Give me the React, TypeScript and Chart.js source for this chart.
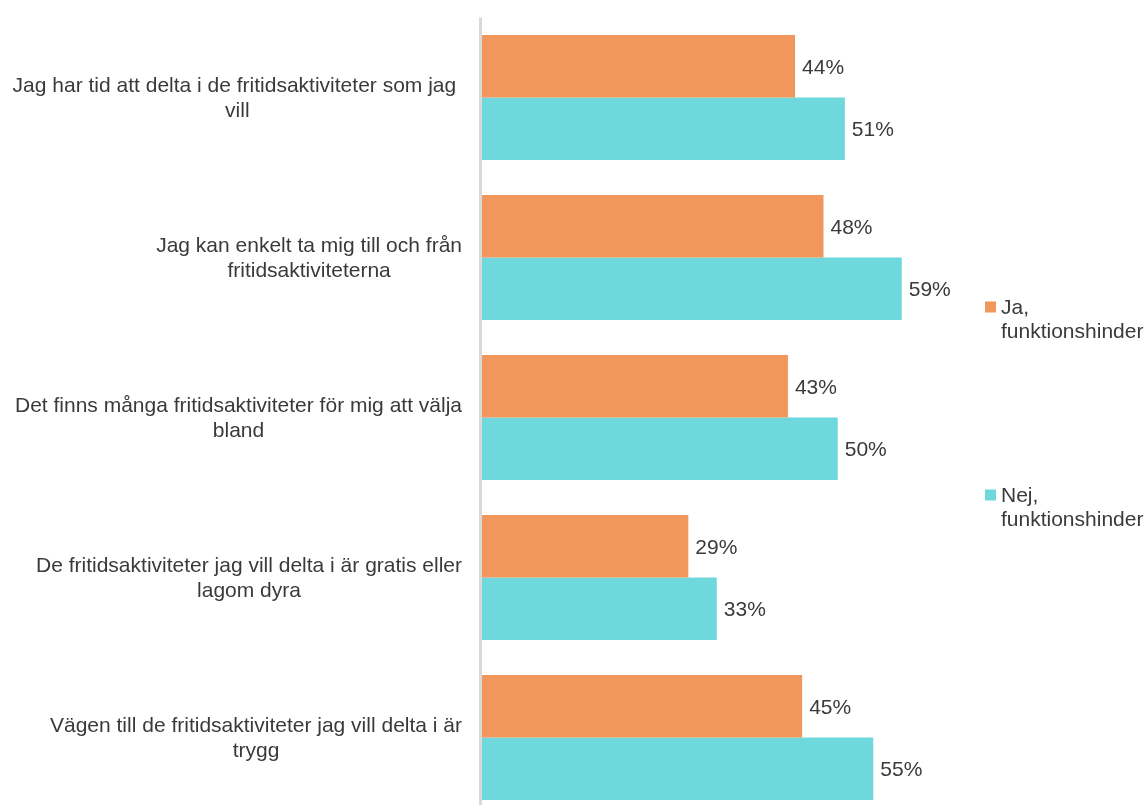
import React, { useEffect, useRef } from "react";
import { Chart, registerables } from "chart.js";

Chart.register(...registerables);

const categories: string[][] = [
  ["Jag har tid att delta i de fritidsaktiviteter som jag ", "vill"],
  ["Jag kan enkelt ta mig till och från", "fritidsaktiviteterna"],
  ["Det finns många fritidsaktiviteter för mig att välja", "bland"],
  ["De fritidsaktiviteter jag vill delta i är gratis eller", "lagom dyra"],
  ["Vägen till de fritidsaktiviteter jag vill delta i är", "trygg"],
];

const seriesNames = ["Ja, funktionshinder", "Nej, funktionshinder"];
const legendLines: string[][] = [
  ["Ja,", "funktionshinder"],
  ["Nej,", "funktionshinder"],
];
const jaValues = [44, 48, 43, 29, 45];
const nejValues = [51, 59, 50, 33, 55];

const ORANGE = "#F1975B";
const CYAN = "#6FD8DC";
const TEXT = "#3A3A3A";
const FONT = "21px 'Liberation Sans', Arial, sans-serif";

const decorPlugin = {
  id: "decor",
  beforeDatasetsDraw(chart: any) {
    const { ctx, chartArea } = chart;
    ctx.save();
    ctx.fillStyle = "#D9D9D9";
    ctx.fillRect(chartArea.left - 3, chartArea.top, 3, chartArea.bottom - chartArea.top);
    ctx.restore();
  },
  afterDatasetsDraw(chart: any) {
    const { ctx } = chart;
    ctx.save();
    ctx.font = FONT;
    ctx.fillStyle = TEXT;
    ctx.textBaseline = "middle";
    ctx.textAlign = "left";
    chart.data.datasets.forEach((ds: any, di: number) => {
      const meta = chart.getDatasetMeta(di);
      meta.data.forEach((bar: any, i: number) => {
        ctx.fillText(ds.data[i] + "%", bar.x + 7, bar.y + 1.5);
      });
    });

    // category labels: block right-aligned, lines centred within block
    const yScale = chart.scales.y;
    const rightEdge = 462;
    const lineH = 25;
    categories.forEach((lines, i) => {
      const cy = yScale.getPixelForValue(i) + 1.5;
      const w = Math.max(...lines.map((l) => ctx.measureText(l).width));
      const cx = rightEdge - w / 2;
      ctx.textAlign = "center";
      lines.forEach((l, li) => {
        const y = cy + (li - (lines.length - 1) / 2) * lineH;
        const trimmed = l.trimEnd();
        const shift = (ctx.measureText(l).width - ctx.measureText(trimmed).width) / 2;
        ctx.fillText(trimmed, cx - shift, y);
      });
    });

    // legend
    const legendY = [307, 495];
    const colors = [ORANGE, CYAN];
    legendLines.forEach((lines, i) => {
      ctx.fillStyle = colors[i];
      ctx.fillRect(985, legendY[i] - 5.5, 11, 11);
      ctx.fillStyle = TEXT;
      ctx.textAlign = "left";
      lines.forEach((l, li) => {
        ctx.fillText(l, 1001, legendY[i] + 1.5 + li * 24);
      });
    });
    ctx.restore();
  },
};

export default function App() {
  const ref = useRef<HTMLCanvasElement | null>(null);
  useEffect(() => {
    if (!ref.current) return;
    const chart = new Chart(ref.current, {
      type: "bar",
      data: {
        labels: categories.map((c) => c.join(" ")),
        datasets: [
          {
            label: seriesNames[0],
            data: jaValues,
            backgroundColor: ORANGE,
            barPercentage: 1,
            categoryPercentage: 0.78,
          },
          {
            label: seriesNames[1],
            data: nejValues,
            backgroundColor: CYAN,
            barPercentage: 1,
            categoryPercentage: 0.78,
          },
        ],
      },
      options: {
        indexAxis: "y",
        animation: false,
        responsive: false,
        devicePixelRatio: 1,
        layout: { padding: { top: 17.5, bottom: 12.5, left: 0, right: 166 } },
        scales: {
          x: { display: false, min: 0, max: 70 },
          y: {
            ticks: { display: false },
            grid: { display: false },
            border: { display: false },
            afterFit: (s: any) => {
              s.width = 482;
            },
          },
        },
        plugins: {
          legend: { display: false },
          tooltip: { enabled: false },
        },
      },
      plugins: [decorPlugin],
    } as any);
    return () => chart.destroy();
  }, []);
  return (
    <div
      style={{
        position: "fixed",
        left: 0,
        top: 0,
        width: 1146,
        height: 805,
        overflow: "hidden",
        background: "#fff",
      }}
    >
      <canvas ref={ref} width={1146} height={830} style={{ display: "block" }} />
    </div>
  );
}
